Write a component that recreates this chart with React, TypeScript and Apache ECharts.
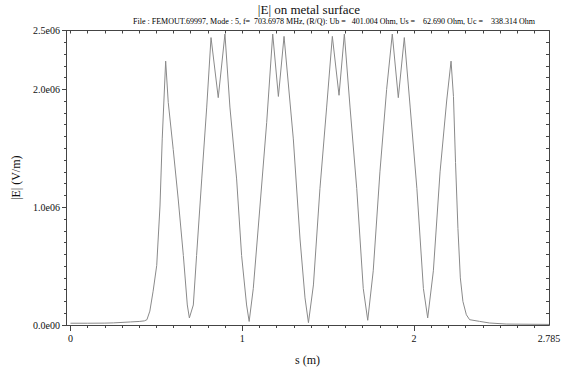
import React, { useEffect, useRef } from "react";
import * as echarts from "echarts";

// s (m)
const sValues = [
  0, 0.1, 0.2, 0.25, 0.3, 0.35, 0.4, 0.43, 0.445, 0.462, 0.481, 0.502, 0.521, 0.534, 0.554,
  0.569, 0.598, 0.627, 0.657, 0.68, 0.692, 0.715, 0.734, 0.764, 0.793, 0.818, 0.86, 0.899,
  0.928, 0.967, 0.996, 1.025, 1.04, 1.064, 1.103, 1.142, 1.177, 1.21, 1.243, 1.297, 1.336,
  1.365, 1.385, 1.414, 1.452, 1.491, 1.524, 1.563, 1.594, 1.627, 1.666, 1.704, 1.73, 1.762,
  1.801, 1.84, 1.873, 1.908, 1.943, 1.977, 2.016, 2.054, 2.079, 2.112, 2.151, 2.19, 2.215,
  2.229, 2.241, 2.255, 2.269, 2.284, 2.304, 2.323, 2.38, 2.439, 2.536, 2.785,
];
// |E| in units of 1e6 V/m
const eValues = [
  0.015, 0.015, 0.016, 0.018, 0.022, 0.026, 0.03, 0.035, 0.045, 0.118, 0.287, 0.506, 1.01, 1.58, 2.24,
  1.89, 1.49, 1.07, 0.59, 0.17, 0.06, 0.17, 0.59, 1.24, 1.85, 2.44, 1.93, 2.47,
  1.85, 1.24, 0.59, 0.17, 0.03, 0.31, 1.01, 1.72, 2.47, 1.94, 2.45, 1.58, 0.73,
  0.23, 0.02, 0.34, 1.16, 1.85, 2.45, 1.95, 2.47, 1.85, 1.16, 0.31, 0.04, 0.46,
  1.3, 2.0, 2.47, 1.93, 2.44, 1.85, 1.16, 0.31, 0.06, 0.46, 1.3, 1.91, 2.24,
  1.94, 1.38, 0.82, 0.4, 0.2, 0.087, 0.045, 0.031, 0.017, 0.008, 0.005,
];

const xLabelValues = [0, 1, 2, 2.785];
const xMajorTicks = [0, 1, 2];
const yLabelValues = [0, 1e6, 2e6, 2.5e6];

const titleText = "|E| on metal surface";
const subtitleText =
  "File : FEMOUT.69997, Mode : 5, f=  703.6978 MHz, (R/Q): Ub =   401.004 Ohm, Us =    62.690 Ohm, Uc =    338.314 Ohm";

const steps = (from: number, to: number, step: number) => {
  const out: number[] = [];
  for (let i = 0; from + i * step <= to + 1e-9; i++) out.push(+(from + i * step).toFixed(6));
  return out;
};

const xMinorTicks = steps(0, 2.785, 0.1);
const yMinorTicks = steps(0, 2.5e6, 1e5);

const fmtY = (v: number) => {
  if (v === 0) return "0.0e00";
  const e = Math.floor(Math.log10(v) + 1e-9);
  const m = v / Math.pow(10, e);
  return `${m.toFixed(1)}e${String(e).padStart(2, "0")}`;
};

const FONT = "Liberation Serif";
const AX = "#444";
const TXT = "#111";

export default function App() {
  const ref = useRef<HTMLDivElement>(null);
  useEffect(() => {
    document.body.style.margin = "0";
    const chart = echarts.init(ref.current!, undefined, { renderer: "svg" });
    const xMin = -0.026;
    const xMax = 2.785;
    const yMin = 0;
    const yMax = 2.5e6;
    const baseX = {
      type: "value" as const,
      min: xMin,
      max: xMax,
      splitLine: { show: false },
      axisLine: { show: true, onZero: false, lineStyle: { color: AX, width: 1 } },
    };
    const baseY = {
      type: "value" as const,
      min: yMin,
      max: yMax,
      splitLine: { show: false },
      axisLine: { show: true, onZero: false, lineStyle: { color: AX, width: 1 } },
    };
    chart.setOption({
      animation: false,
      backgroundColor: "#ffffff",
      grid: { left: 66, right: 19, top: 30.5, bottom: 44, containLabel: false },
      graphic: [
        {
          type: "text",
          x: 309,
          y: 3,
          style: { text: titleText, fontFamily: FONT, fontSize: 13, fill: TXT, textAlign: "center" },
        },
        {
          type: "text",
          x: 334,
          y: 17,
          style: { text: subtitleText, fontFamily: FONT, fontSize: 8, fill: "#000", textAlign: "center" },
        },
      ],
      xAxis: [
        {
          ...baseX,
          position: "bottom",
          name: "s (m)",
          nameLocation: "middle",
          nameGap: 29,
          nameTextStyle: { fontFamily: FONT, fontSize: 12, color: TXT },
          axisTick: { show: true, inside: false, length: 6, customValues: xMajorTicks, lineStyle: { color: AX } },
          axisLabel: {
            show: true,
            customValues: xLabelValues,
            margin: 8,
            fontFamily: FONT,
            fontSize: 10,
            color: TXT,
            formatter: (v: number) => String(v),
          },
        },
        {
          ...baseX,
          position: "bottom",
          axisTick: { show: true, inside: false, length: 3, customValues: xMinorTicks, lineStyle: { color: AX } },
          axisLabel: { show: false },
        },
        {
          ...baseX,
          position: "top",
          axisTick: { show: true, inside: true, length: 3, customValues: xMinorTicks, lineStyle: { color: AX } },
          axisLabel: { show: false },
        },
      ],
      yAxis: [
        {
          ...baseY,
          position: "left",
          name: "|E| (V/m)",
          nameLocation: "middle",
          nameGap: 40,
          nameTextStyle: { fontFamily: FONT, fontSize: 12, color: TXT },
          axisTick: { show: true, inside: false, length: 4, customValues: yLabelValues, lineStyle: { color: AX } },
          axisLabel: {
            show: true,
            customValues: yLabelValues,
            margin: 6,
            fontFamily: FONT,
            fontSize: 10,
            color: TXT,
            formatter: fmtY,
          },
        },
        {
          ...baseY,
          position: "left",
          axisTick: { show: true, inside: false, length: 2, customValues: yMinorTicks, lineStyle: { color: AX } },
          axisLabel: { show: false },
        },
        {
          ...baseY,
          position: "right",
          axisTick: { show: true, inside: true, length: 3, customValues: yMinorTicks, lineStyle: { color: AX } },
          axisLabel: { show: false },
        },
      ],
      series: [
        {
          type: "line",
          xAxisIndex: 0,
          yAxisIndex: 0,
          data: sValues.map((s, i) => [s, eValues[i] * 1e6]),
          showSymbol: false,
          symbol: "none",
          lineStyle: { color: "#8a8a8a", width: 1 },
          silent: true,
        },
      ],
    });
    return () => chart.dispose();
  }, []);
  return <div ref={ref} style={{ width: 568, height: 371 }} />;
}
